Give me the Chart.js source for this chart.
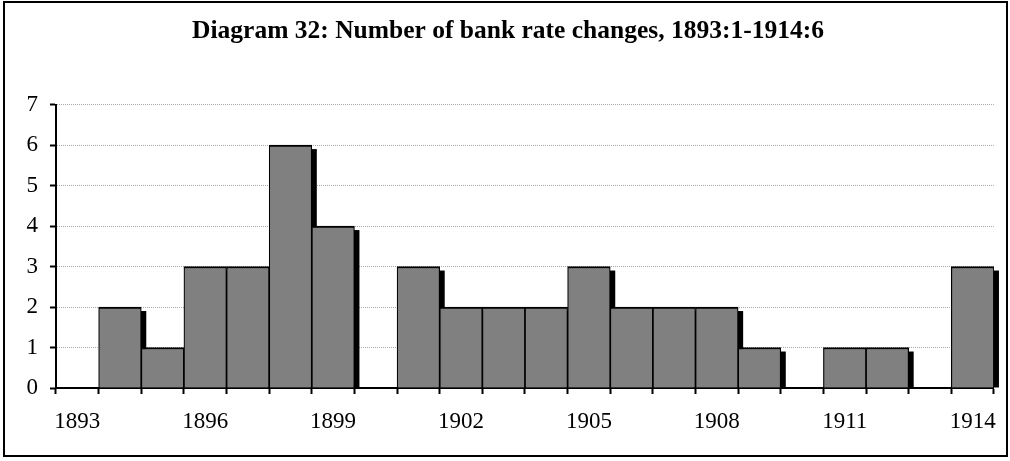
<!DOCTYPE html>
<html>
<head>
<meta charset="utf-8">
<script src="https://cdn.jsdelivr.net/npm/chart.js@4/dist/chart.umd.min.js"></script>
<style>
  html, body { margin: 0; padding: 0; background: #ffffff; }
  #wrap { width: 1010px; height: 461px; position: relative; }
</style>
</head>
<body>
<div id="wrap"><canvas id="c" width="1010" height="461"></canvas></div>
<script>
// ---- data ----
const titleText = 'Diagram 32: Number of bank rate changes, 1893:1-1914:6';
const years = ['1893','1894','1895','1896','1897','1898','1899','1900','1901','1902','1903',
               '1904','1905','1906','1907','1908','1909','1910','1911','1912','1913','1914'];
const changes = [0, 2, 1, 3, 3, 6, 4, 0, 3, 2, 2, 2, 3, 2, 2, 2, 1, 0, 1, 1, 0, 3];
const yMin = 0;
const yMax = 7;
const yStep = 1;
const labelEvery = 3;

// ---- plugins ----
const shadowPlugin = {
  id: 'barShadow',
  beforeDatasetsDraw(chart) {
    const ctx = chart.ctx;
    const meta = chart.getDatasetMeta(0);
    ctx.save();
    ctx.fillStyle = '#000000';
    meta.data.forEach((bar, i) => {
      if (!changes[i]) return;
      const p = bar.getProps(['x', 'y', 'base', 'width'], true);
      const left = p.x - p.width / 2 + 5;
      const top = p.y + 4;
      const h = p.base - top;
      if (h > 0) ctx.fillRect(left, top, p.width, h);
    });
    ctx.restore();
  }
};
const framePlugin = {
  id: 'frame',
  afterDraw(chart) {
    const ctx = chart.ctx;
    ctx.save();
    ctx.strokeStyle = '#000000';
    ctx.lineWidth = 2;
    ctx.strokeRect(4, 2, 1003, 454);
    ctx.restore();
  }
};

new Chart(document.getElementById('c'), {
  type: 'bar',
  data: {
    labels: years,
    datasets: [{
      data: changes,
      backgroundColor: '#808080',
      borderColor: '#000000',
      borderWidth: { top: 2, left: 1.2, right: 1.2, bottom: 0 },
      borderSkipped: false,
      barPercentage: 1,
      categoryPercentage: 1
    }]
  },
  options: {
    responsive: false,
    animation: false,
    devicePixelRatio: 1,
    layout: { padding: { left: 22, right: 16, top: 0, bottom: 0 } },
    plugins: {
      legend: { display: false },
      tooltip: { enabled: false },
      title: {
        display: true,
        text: titleText,
        color: '#000000',
        font: { family: 'Liberation Serif', size: 25.5, weight: 'bold' },
        padding: { top: 16, bottom: 58 }
      }
    },
    scales: {
      x: {
        type: 'category',
        offset: true,
        z: 1,
        grid: {
          offset: true,
          drawOnChartArea: false,
          drawTicks: true,
          tickLength: 6,
          tickColor: '#000000',
          tickWidth: 2
        },
        border: { display: true, color: '#000000', width: 2 },
        ticks: {
          autoSkip: false,
          maxRotation: 0,
          minRotation: 0,
          padding: 14,
          color: '#000000',
          font: { family: 'Liberation Serif', size: 23 },
          callback: function(v, i) { return i % labelEvery === 0 ? years[i] : ''; }
        },
        afterFit(scale) { scale.height = 73; }
      },
      y: {
        min: yMin,
        max: yMax,
        grid: {
          color: '#a8a8a8',
          lineWidth: 1,
          drawTicks: true,
          tickLength: 6,
          tickColor: '#000000',
          tickWidth: 2
        },
        border: { display: true, color: '#000000', width: 2, dash: [1, 1] },
        ticks: {
          stepSize: yStep,
          padding: 12,
          color: '#000000',
          font: { family: 'Liberation Serif', size: 23 }
        },
        afterFit(scale) { scale.width = 34; }
      }
    }
  },
  plugins: [shadowPlugin, framePlugin]
});
</script>
</body>
</html>
